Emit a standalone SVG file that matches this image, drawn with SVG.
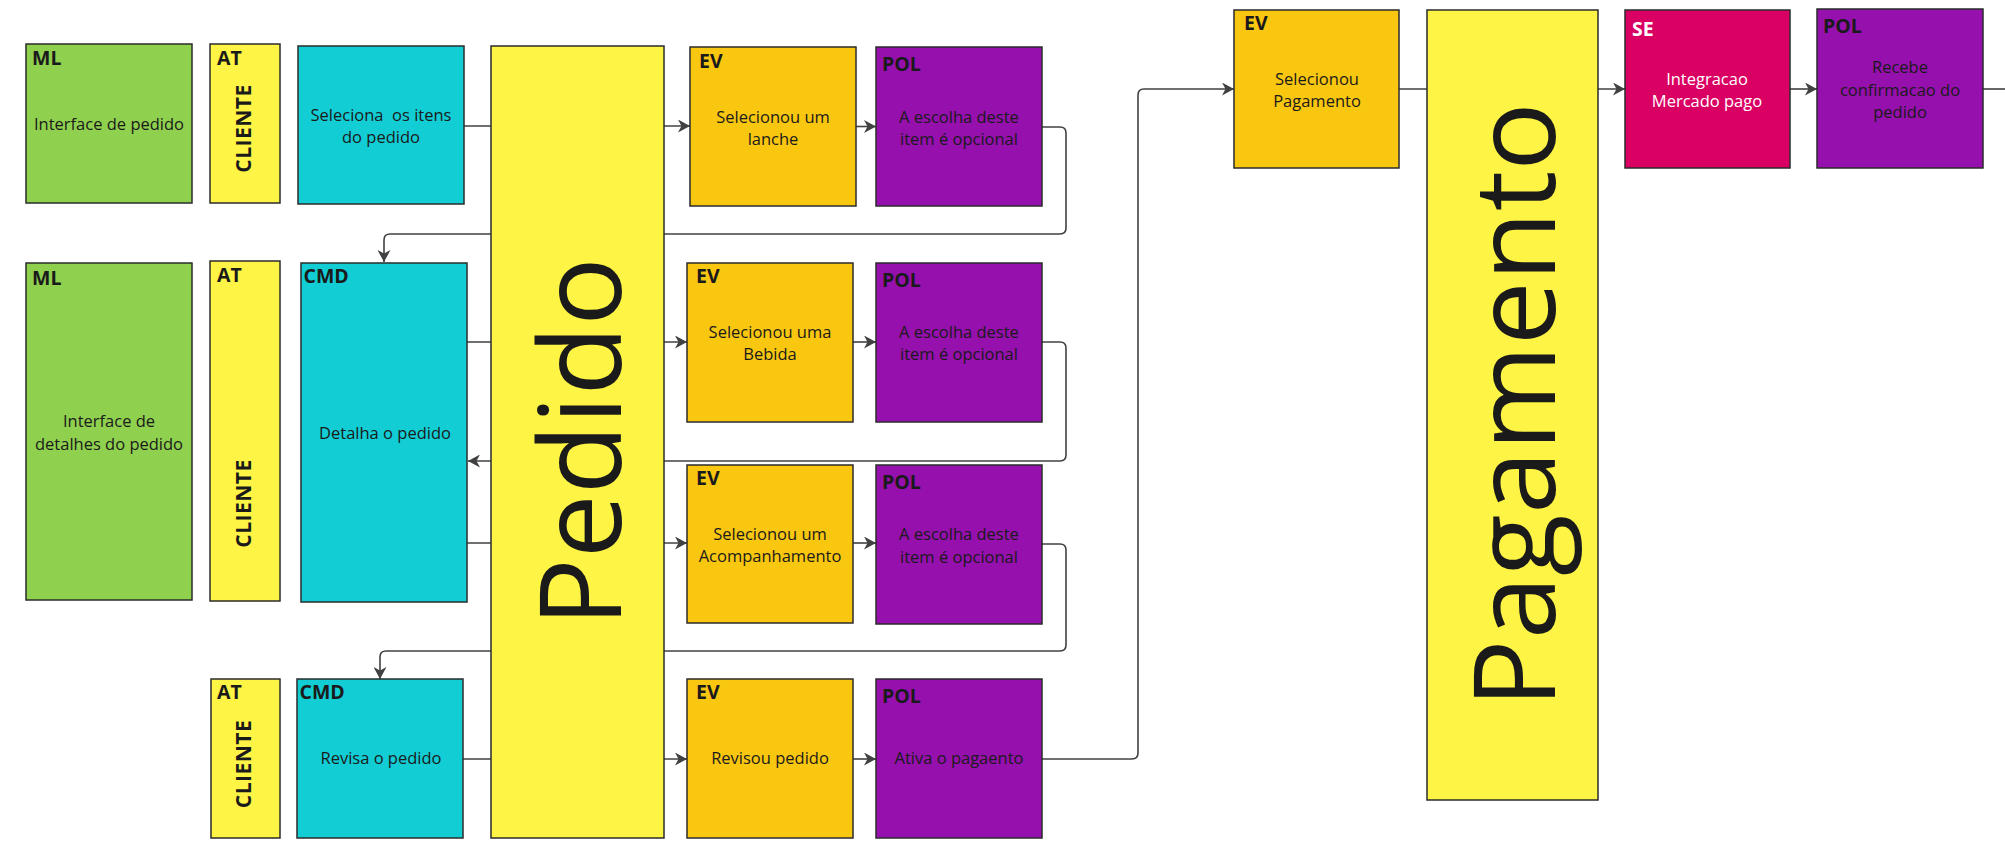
<svg xmlns="http://www.w3.org/2000/svg" width="2005" height="854" viewBox="0 0 2005 854">
<defs>
<marker id="arr" markerUnits="userSpaceOnUse" markerWidth="13" markerHeight="13" refX="12" refY="6.5" orient="auto">
<path d="M0,0 L12,6.5 L0,13 L3.5,6.5 z" fill="#414141"/>
</marker>
<style>
.box{stroke:#2b2b2b;stroke-width:1.5}
.ml{fill:#8fd14f}.at{fill:#fef445}.cmd{fill:#12cdd4}.ev{fill:#fac710}.pol{fill:#9510ac}.se{fill:#da0063}.agg{fill:#fef445}
.lbl{font-family:"Open Sans","Noto Sans",sans-serif;font-weight:700;font-size:19.5px;fill:#1a1a1a}
.txt{font-family:"Open Sans","Noto Sans",sans-serif;font-size:16.5px;fill:#1a1a1a;text-anchor:middle}
.wht{fill:#ffffff}
.actor{font-family:"Open Sans","Noto Sans",sans-serif;font-weight:700;font-size:21px;fill:#1a1a1a;text-anchor:middle;letter-spacing:0.5px}
.big{font-family:"Open Sans","Noto Sans",sans-serif;font-size:114px;fill:#1a1a1a;text-anchor:middle}
.con{fill:none;stroke:#414141;stroke-width:1.6}
</style>
</defs>
<rect width="2005" height="854" fill="#ffffff"/>

<g id="connectors">
<path class="con" d="M464,126 H690" marker-end="url(#arr)"/>
<path class="con" d="M856,126.5 H876" marker-end="url(#arr)"/>
<path class="con" d="M1042,127 H1060 Q1066,127 1066,133 V228 Q1066,234 1060,234 H390 Q384,234 384,240 V262" marker-end="url(#arr)"/>
<path class="con" d="M467,342 H687" marker-end="url(#arr)"/>
<path class="con" d="M853,342 H876" marker-end="url(#arr)"/>
<path class="con" d="M1042,342 H1060 Q1066,342 1066,348 V455 Q1066,461 1060,461 H468" marker-end="url(#arr)"/>
<path class="con" d="M467,543 H687" marker-end="url(#arr)"/>
<path class="con" d="M853,543 H876" marker-end="url(#arr)"/>
<path class="con" d="M1042,544 H1060 Q1066,544 1066,550 V645 Q1066,651 1060,651 H386 Q380,651 380,657 V679" marker-end="url(#arr)"/>
<path class="con" d="M463,759 H687" marker-end="url(#arr)"/>
<path class="con" d="M853,759 H876" marker-end="url(#arr)"/>
<path class="con" d="M1042,759 H1132 Q1138,759 1138,753 V95 Q1138,89 1144,89 H1234" marker-end="url(#arr)"/>
<path class="con" d="M1399,89 H1625" marker-end="url(#arr)"/>
<path class="con" d="M1790,89 H1817" marker-end="url(#arr)"/>
<path class="con" d="M1983,89 H2005"/>
</g>

<g id="ml1"><rect class="box ml" x="26" y="44" width="166" height="159"/>
<text class="lbl" x="32" y="65">ML</text>
<text class="txt" x="109" y="130">Interface de pedido</text></g>

<g id="at1"><rect class="box at" x="210" y="44" width="70" height="159"/>
<text class="lbl" x="217" y="65">AT</text>
<text class="actor" transform="translate(251,128.5) rotate(-90)">CLIENTE</text></g>

<g id="cmd1"><rect class="box cmd" x="298" y="46" width="166" height="158"/>
<text class="txt" x="381" y="120.7">Seleciona&#160; os itens</text>
<text class="txt" x="381" y="143">do pedido</text></g>

<g id="ev1"><rect class="box ev" x="690" y="47" width="166" height="159"/>
<text class="lbl" x="699" y="68">EV</text>
<text class="txt" x="773" y="122.7">Selecionou um</text>
<text class="txt" x="773" y="145">lanche</text></g>

<g id="pol1"><rect class="box pol" x="876" y="47" width="166" height="159"/>
<text class="lbl" x="882" y="71">POL</text>
<text class="txt" x="959" y="122.7">A escolha deste</text>
<text class="txt" x="959" y="145">item é opcional</text></g>

<g id="ml2"><rect class="box ml" x="26" y="263" width="166" height="337"/>
<text class="lbl" x="32" y="285">ML</text>
<text class="txt" x="109" y="427">Interface de</text>
<text class="txt" x="109" y="449.5">detalhes do pedido</text></g>

<g id="at2"><rect class="box at" x="210" y="261" width="70" height="340"/>
<text class="lbl" x="217" y="282">AT</text>
<text class="actor" transform="translate(251,503.5) rotate(-90)">CLIENTE</text></g>

<g id="cmd2"><rect class="box cmd" x="301" y="263" width="166" height="339"/>
<text class="lbl" x="303.5" y="283">CMD</text>
<text class="txt" x="385" y="439">Detalha o pedido</text></g>

<g id="ev2"><rect class="box ev" x="687" y="263" width="166" height="159"/>
<text class="lbl" x="696" y="283">EV</text>
<text class="txt" x="770" y="337.7">Selecionou uma</text>
<text class="txt" x="770" y="359.5">Bebida</text></g>

<g id="pol2"><rect class="box pol" x="876" y="263" width="166" height="159"/>
<text class="lbl" x="882" y="287">POL</text>
<text class="txt" x="959" y="337.7">A escolha deste</text>
<text class="txt" x="959" y="359.5">item é opcional</text></g>

<g id="ev3"><rect class="box ev" x="687" y="465" width="166" height="158"/>
<text class="lbl" x="696" y="485">EV</text>
<text class="txt" x="770" y="540">Selecionou um</text>
<text class="txt" x="770" y="562">Acompanhamento</text></g>

<g id="pol3"><rect class="box pol" x="876" y="465" width="166" height="159"/>
<text class="lbl" x="882" y="489">POL</text>
<text class="txt" x="959" y="540">A escolha deste</text>
<text class="txt" x="959" y="562.5">item é opcional</text></g>

<g id="at3"><rect class="box at" x="211" y="679" width="69" height="159"/>
<text class="lbl" x="217" y="699">AT</text>
<text class="actor" transform="translate(251,764) rotate(-90)">CLIENTE</text></g>

<g id="cmd3"><rect class="box cmd" x="297" y="679" width="166" height="159"/>
<text class="lbl" x="299.5" y="699">CMD</text>
<text class="txt" x="381" y="764">Revisa o pedido</text></g>

<g id="ev4"><rect class="box ev" x="687" y="679" width="166" height="159"/>
<text class="lbl" x="696" y="699">EV</text>
<text class="txt" x="770" y="764">Revisou pedido</text></g>

<g id="pol4"><rect class="box pol" x="876" y="679" width="166" height="159"/>
<text class="lbl" x="882" y="703">POL</text>
<text class="txt" x="959" y="764">Ativa o pagaento</text></g>

<g id="pedido"><rect class="box agg" x="491" y="46" width="173" height="792"/>
<text class="big" transform="translate(621,442) rotate(-90)">Pedido</text></g>

<g id="ev5"><rect class="box ev" x="1234" y="10" width="165" height="158"/>
<text class="lbl" x="1244" y="30">EV</text>
<text class="txt" x="1317" y="85">Selecionou</text>
<text class="txt" x="1317" y="107">Pagamento</text></g>

<g id="pagamento"><rect class="box agg" x="1427" y="10" width="171" height="790"/>
<text class="big" transform="translate(1555,405) rotate(-90)">Pagamento</text></g>

<g id="se"><rect class="box se" x="1625" y="10" width="165" height="158"/>
<text class="lbl wht" x="1632" y="36">SE</text>
<text class="txt wht" x="1707" y="85">Integracao</text>
<text class="txt wht" x="1707" y="107">Mercado pago</text></g>

<g id="pol5"><rect class="box pol" x="1817" y="9" width="166" height="159"/>
<text class="lbl" x="1823" y="33">POL</text>
<text class="txt" x="1900" y="73">Recebe</text>
<text class="txt" x="1900" y="96">confirmacao do</text>
<text class="txt" x="1900" y="118">pedido</text></g>
</svg>
